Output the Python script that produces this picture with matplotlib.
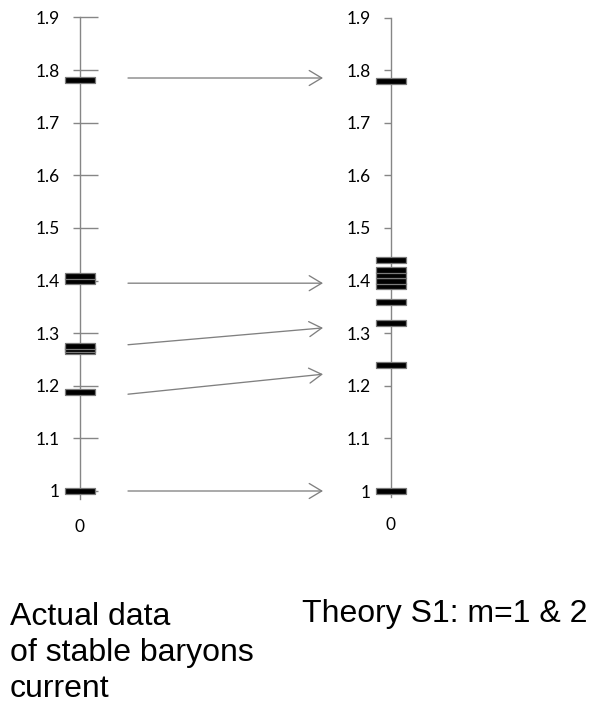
import matplotlib
matplotlib.use("Agg")
import matplotlib.pyplot as plt
from matplotlib.path import Path
from matplotlib.patches import ConnectionPatch
from matplotlib.transforms import blended_transform_factory

# Mass ratios of stable baryons (relative to the nucleon)
actual_values = [1.0, 1.188, 1.266, 1.270, 1.275, 1.400, 1.408, 1.781]
# Theory S1 levels, m = 1 & 2
theory_values = [1.0, 1.24, 1.32, 1.36, 1.39, 1.40, 1.41, 1.42, 1.44, 1.78]
# Arrow endpoints: actual level -> theory level
arrow_from = [1.785, 1.395, 1.278, 1.184, 1.0]
arrow_to = [1.785, 1.395, 1.31, 1.222, 1.0]

tick_values = [1.0, 1.1, 1.2, 1.3, 1.4, 1.5, 1.6, 1.7, 1.8, 1.9]
tick_labels = ["1", "1.1", "1.2", "1.3", "1.4", "1.5", "1.6", "1.7", "1.8", "1.9"]
category_label = ["0"]

W, H = 596, 707
fig = plt.figure(figsize=(W / 100, H / 100), dpi=100)

AXIS_GRAY = "#868686"
TICK_FONT = dict(family=["Lato", "DejaVu Sans"], size=12.5)

# shared vertical scale: pixel rows of 1.0 and 1.9
Y_ONE, Y_TOP = 491.0, 17.5
PX_PER_UNIT = (Y_ONE - Y_TOP) / 0.9

# flat bar marker
bar_marker = Path([(-1, -0.22), (1, -0.22), (1, 0.22), (-1, 0.22), (-1, -0.22)],
                  [Path.MOVETO, Path.LINETO, Path.LINETO, Path.LINETO, Path.CLOSEPOLY])


def make_axis(x_center, y_low, inner_len):
    bottom_px = Y_ONE + (1.0 - y_low) * PX_PER_UNIT
    ax = fig.add_axes([(x_center - 20) / W, (H - bottom_px) / H,
                       40 / W, (bottom_px - Y_TOP) / H])
    ax.set_xlim(-1, 1)
    ax.set_ylim(y_low, 1.9)
    for s in ("top", "bottom"):
        ax.spines[s].set_visible(False)
    ax.spines["left"].set_position(("data", 0))
    ax.spines["right"].set_position(("data", 0))
    ax.spines["left"].set_color(AXIS_GRAY)
    ax.spines["left"].set_linewidth(1.0)
    ax.spines["right"].set_visible(False)
    ax.patch.set_visible(False)
    ax.set_yticks(tick_values)
    ax.set_yticklabels(tick_labels, **TICK_FONT)
    ax.tick_params(axis="y", which="major", direction="out", length=5,
                   width=1.0, color=AXIS_GRAY, pad=9.4, labelcolor="black",
                   left=True, right=inner_len > 0, labelright=False)
    if inner_len > 0:
        for t in ax.yaxis.get_major_ticks():
            t.tick2line.set_markersize(inner_len)
    ax.set_xticks([0])
    ax.set_xticklabels(category_label, **TICK_FONT)
    ax.tick_params(axis="x", length=0, pad=14.5, labelcolor="black")
    return ax


def draw_levels(ax, values):
    ax.plot([0] * len(values), values, linestyle="none",
            marker=bar_marker, markersize=21, markerfacecolor="black",
            markeredgecolor="#7a7a7a", markeredgewidth=0.9,
            clip_on=False, zorder=3)


# left: actual data
axL = make_axis(80, 0.985, 13)
draw_levels(axL, actual_values)

# right: theory
axR = make_axis(391, 0.988, 0)
draw_levels(axR, theory_values)

# arrows from the measured levels to the predicted ones
trL = blended_transform_factory(fig.transFigure, axL.transData)
trR = blended_transform_factory(fig.transFigure, axR.transData)
for y0, y1 in zip(arrow_from, arrow_to):
    cp = ConnectionPatch(xyA=(128 / W, y0), coordsA=trL,
                         xyB=(323 / W, y1), coordsB=trR,
                         arrowstyle="->,head_length=0.45,head_width=0.27",
                         mutation_scale=20, shrinkA=0, shrinkB=0,
                         color="#808080", linewidth=0.95)
    fig.add_artist(cp)

# captions
CAP_FONT = dict(family=["Liberation Sans", "DejaVu Sans"], size=23)
fig.text(10 / W, (H - 697) / H, "Actual data\nof stable baryons\ncurrent",
         ha="left", va="baseline", linespacing=1.27, color="black", **CAP_FONT)
fig.text(302 / W, (H - 622) / H, "Theory S1: m=1 & 2",
         ha="left", va="baseline", color="black", **CAP_FONT)

fig.savefig("out.png", dpi=100)
